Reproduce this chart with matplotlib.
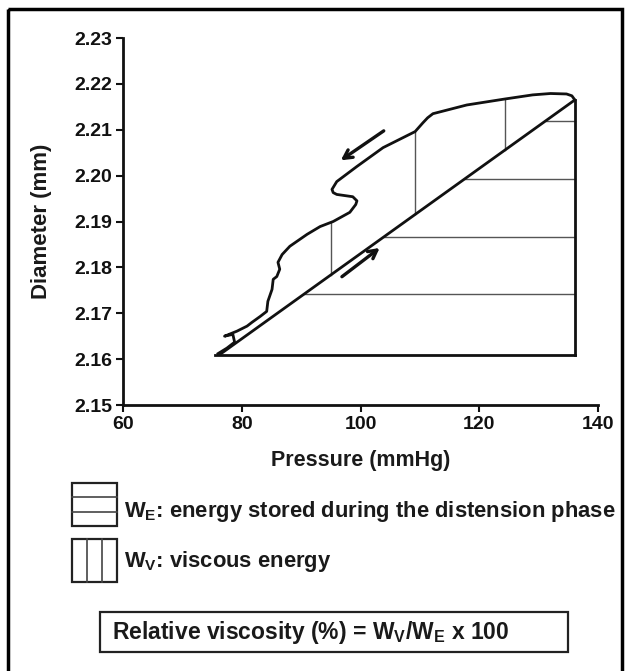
import matplotlib
matplotlib.use('Agg')
import matplotlib.pyplot as plt
import numpy as np
from matplotlib.patches import Rectangle

plt.rcParams['font.family'] = ['Liberation Sans', 'DejaVu Sans']
plt.rcParams['font.weight'] = 'bold'
plt.rcParams['mathtext.fontset'] = 'custom'
plt.rcParams['mathtext.rm'] = 'Liberation Sans:bold'
plt.rcParams['mathtext.it'] = 'Liberation Sans:bold'
plt.rcParams['mathtext.default'] = 'rm'

# loading (distension) phase - straight line
load_p = [76.3, 136.1]
load_d = [2.1610, 2.2165]

# unloading phase, traced from the top right back to the bottom left
unload_p = [136.1, 135.6, 134.7, 132.0, 129.0, 124.3, 117.9, 112.2, 111.3, 110.5, 109.2,
            103.8, 99.4, 96.0, 95.2, 95.4, 96.0, 98.7, 99.4, 99.2, 98.2,
            95.4, 93.2, 91.0, 88.1, 86.8, 86.1, 86.4, 85.9, 85.3, 85.1,
            84.4, 84.2, 83.1, 81.7, 80.9, 79.2, 77.1, 78.5, 78.8, 77.5, 76.0]
unload_d = [2.2165, 2.2174, 2.2178, 2.2179, 2.2176, 2.2167, 2.2154, 2.2135, 2.2126, 2.2115, 2.2096,
            2.2061, 2.2020, 2.1987, 2.1970, 2.1963, 2.1959, 2.1954, 2.1945, 2.1937, 2.1920,
            2.1900, 2.1889, 2.1872, 2.1846, 2.1828, 2.1811, 2.1796, 2.1780, 2.1774, 2.1752,
            2.1726, 2.1704, 2.1693, 2.1680, 2.1672, 2.1661, 2.1650, 2.1654, 2.1637, 2.1624, 2.1612]

# base of the loop
base_p = [75.5, 136.1]
base_d = 2.1610

# W_E hatch (horizontal lines) and W_V hatch (vertical lines)
we_levels = [2.1741, 2.1867, 2.1993, 2.2120]
wv_p = [95.0, 109.2, 124.3]
wv_top = [2.1900, 2.2096, 2.2167]

# arrows: (start P, start D, end P, end D)
arrow_down = (104.3, 2.2101, 96.3, 2.2030)
arrow_up = (96.5, 2.1776, 103.6, 2.1846)

fig = plt.figure(figsize=(6.3, 6.71), dpi=100)

# overlay in pixel-like units for frame, legend and formula
ov = fig.add_axes([0, 0, 1, 1])
ov.set_xlim(0, 630)
ov.set_ylim(671, 0)
ov.axis('off')
ov.add_patch(Rectangle((8, 9), 614, 680, fill=False, lw=2.5, ec='black', clip_on=True))

ov.add_patch(Rectangle((72, 483), 45, 43, fill=False, lw=1.6, ec='#222222'))
for k in (1, 2):
    ov.plot([72, 117], [483 + 43 * k / 3] * 2, color='#444444', lw=1.2)
ov.add_patch(Rectangle((72, 539), 45, 43, fill=False, lw=1.6, ec='#222222'))
for k in (1, 2):
    ov.plot([72 + 45 * k / 3] * 2, [539, 582], color='#444444', lw=1.2)
ov.text(124, 512, 'W$_{E}$: energy stored during the distension phase',
        fontsize=15.8, va='center', ha='left', color='#1a1a1a')
ov.text(124, 562, 'W$_{V}$: viscous energy',
        fontsize=15.8, va='center', ha='left', color='#1a1a1a')
ov.add_patch(Rectangle((100, 612), 468, 40, fill=False, lw=1.6, ec='#222222'))
ov.text(112, 632, 'Relative viscosity (%) = W$_{V}$/W$_{E}$ x 100',
        fontsize=16.5, va='center', ha='left', color='#1a1a1a')

# main chart
ax = fig.add_axes([123 / 630, 1 - 405 / 671, 475 / 630, 367 / 671])
ax.set_facecolor('none')

for lvl in we_levels:
    x0 = np.interp(lvl, load_d, load_p)
    ax.plot([x0, load_p[1]], [lvl, lvl], color='#555555', lw=1.0)
for p, top in zip(wv_p, wv_top):
    bot = np.interp(p, load_p, load_d)
    ax.plot([p, p], [bot, top], color='#555555', lw=1.0)

ax.plot(load_p, load_d, color='#111111', lw=2.0, solid_capstyle='round')
ax.plot(unload_p, unload_d, color='#111111', lw=2.0, solid_joinstyle='round')
ax.plot(base_p, [base_d, base_d], color='#111111', lw=2.0)
ax.plot([base_p[1], base_p[1]], [base_d, load_d[1]], color='#111111', lw=2.0)

for a in (arrow_down, arrow_up):
    ax.annotate('', xy=(a[2], a[3]), xytext=(a[0], a[1]),
                arrowprops=dict(arrowstyle='->,head_length=0.6,head_width=0.32',
                                color='#111111', lw=2.4))

ax.set_xlim(60, 140)
ax.set_ylim(2.15, 2.23)
ax.set_xticks([60, 80, 100, 120, 140])
ax.set_yticks(np.round(np.arange(2.15, 2.2301, 0.01), 2))
ax.yaxis.set_major_formatter(matplotlib.ticker.FormatStrFormatter('%.2f'))
for s in ('top', 'right'):
    ax.spines[s].set_visible(False)
for s in ('left', 'bottom'):
    ax.spines[s].set_linewidth(2.0)
    ax.spines[s].set_color('#111111')
ax.tick_params(direction='out', length=5, width=1.5, labelsize=14, colors='#111111', pad=3)
ax.set_xlabel('Pressure (mmHg)', fontsize=15.5, fontweight='bold', labelpad=12, color='#1a1a1a')
ax.set_ylabel('Diameter (mm)', fontsize=16, fontweight='bold', labelpad=16, color='#1a1a1a')

fig.savefig('out.png', dpi=100)
